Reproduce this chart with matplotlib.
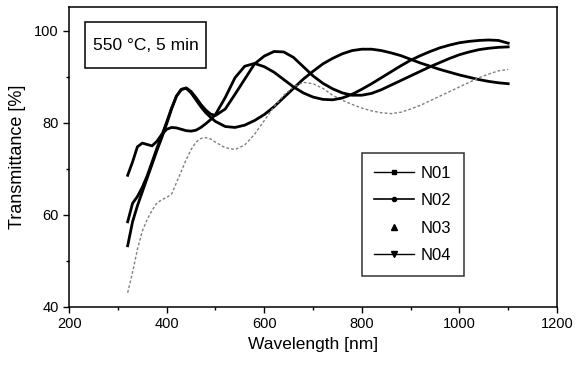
import matplotlib
matplotlib.use("Agg")
import matplotlib.pyplot as plt
from matplotlib.lines import Line2D
from matplotlib.patches import Rectangle
from matplotlib.ticker import MultipleLocator

plt.rcParams['font.family'] = ['Liberation Sans', 'DejaVu Sans']

# wavelength grid (nm)
wl = [320, 330, 340, 350, 360, 370, 380, 390, 400, 410, 420, 430, 440, 450,
      460, 470, 480, 490, 500, 520, 540, 560, 580, 600, 620, 640, 660, 680,
      700, 720, 740, 760, 780, 800, 820, 840, 860, 880, 900, 920, 940, 960,
      980, 1000, 1020, 1040, 1060, 1080, 1100]

n01 = [53.3, 58.5, 62.0, 65.0, 68.0, 71.0, 74.0, 76.8, 79.8, 83.0, 85.8, 87.3,
       87.5, 86.5, 85.0, 83.5, 82.2, 81.2, 80.3, 79.2, 79.0, 79.5, 80.5, 81.8,
       83.5, 85.5, 87.5, 89.5, 91.2, 92.8, 94.0, 95.0, 95.7, 96.0, 96.0, 95.7,
       95.2, 94.6, 93.8, 93.0, 92.3, 91.6, 91.0, 90.4, 89.9, 89.4, 89.0, 88.7,
       88.5]

n02 = [58.5, 62.5, 64.0, 66.0, 68.5, 71.5, 74.5, 77.3, 80.2, 83.2, 85.8, 87.2,
       87.6, 86.8, 85.5, 84.0, 82.8, 81.9, 81.6, 83.0, 86.2, 89.5, 92.8, 94.5,
       95.5, 95.4, 94.2, 92.2, 90.2, 88.6, 87.4, 86.5, 86.0, 86.0, 86.4, 87.2,
       88.2, 89.2, 90.2, 91.2, 92.2, 93.1, 94.0, 94.8, 95.4, 95.9, 96.2, 96.4,
       96.5]

n03 = [43.1, 47.5, 52.5, 56.5, 59.0, 61.0, 62.6, 63.3, 63.8, 64.5, 67.0, 69.5,
       72.0, 74.2, 75.8, 76.6, 76.8, 76.5, 75.8, 74.6, 74.2, 75.2, 77.5, 80.5,
       83.5, 86.0, 87.8, 88.8, 88.5, 87.5, 86.0, 84.9, 84.0, 83.2, 82.6, 82.2,
       82.0, 82.3, 83.0, 83.8, 84.8, 85.8, 86.8, 87.8, 88.8, 89.8, 90.6, 91.3,
       91.6]

n04 = [68.6, 71.5, 74.8, 75.6, 75.3, 75.0, 76.0, 77.5, 78.6, 79.0, 78.9, 78.6,
       78.3, 78.2, 78.4, 79.0, 79.8, 80.7, 81.8, 85.5, 89.8, 92.3, 92.9, 92.2,
       91.0, 89.4, 87.8, 86.5, 85.6, 85.1, 85.0, 85.4, 86.2, 87.3, 88.5, 89.8,
       91.1, 92.4, 93.6, 94.6, 95.5, 96.3, 96.9, 97.4, 97.7, 97.9, 98.0, 97.9,
       97.3]

labels = ["N01", "N02", "N03", "N04"]

fig = plt.figure(figsize=(5.76, 3.65), dpi=100)
ax = fig.add_axes([0.12, 0.159, 0.847, 0.821])

ax.plot(wl, n01, color='black', lw=2.0)
ax.plot(wl, n02, color='black', lw=2.0)
ax.plot(wl, n03, color='#808080', lw=1.0, ls=(0, (2, 1.5)))
ax.plot(wl, n04, color='black', lw=2.0)

ax.set_xlim(200, 1200)
ax.set_ylim(40, 105.1)
ax.xaxis.set_major_locator(MultipleLocator(200))
ax.xaxis.set_minor_locator(MultipleLocator(100))
ax.yaxis.set_major_locator(MultipleLocator(20))
ax.yaxis.set_minor_locator(MultipleLocator(10))
ax.tick_params(which='both', direction='out', width=1.0, labelsize=10.5)
ax.tick_params(which='major', length=4)
ax.tick_params(which='minor', length=2.5)
for s in ax.spines.values():
    s.set_linewidth(1.1)

ax.set_xlabel("Wavelength [nm]", fontsize=12.5, labelpad=4)
ax.set_ylabel("Transmittance [%]", fontsize=13, labelpad=6)

# condition label box
ax.add_patch(Rectangle((0.033, 0.797), 0.248, 0.1535, transform=ax.transAxes,
                       fc='white', ec='black', lw=1.1, zorder=3))
ax.text(0.157, 0.874, "550 °C, 5 min", transform=ax.transAxes, fontsize=12.5,
        ha='center', va='center', zorder=4)

# legend
handles = [
    Line2D([], [], color='black', lw=1.0, marker='s', ms=3.5),
    Line2D([], [], color='black', lw=1.2, marker='o', ms=3),
    Line2D([], [], color='black', lw=0, marker='^', ms=4),
    Line2D([], [], color='black', lw=1.0, marker='v', ms=4),
]
leg = ax.legend(handles, labels, loc='upper left', bbox_to_anchor=(0.60, 0.513),
                fontsize=12, frameon=True, fancybox=False, edgecolor='black',
                handlelength=2.4, handletextpad=0.4, labelspacing=0.75,
                borderpad=0.75, borderaxespad=0)
leg.get_frame().set_linewidth(1.1)

fig.savefig("out.png", dpi=100)
